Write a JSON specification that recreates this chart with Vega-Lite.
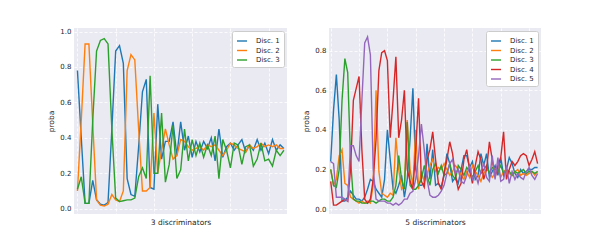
{
"$schema": "https://vega.github.io/schema/vega-lite/v6.json",
"padding": {"left": 47, "top": 27, "right": 5, "bottom": 5},
"background": "white",
"spacing": 42,
"bounds": "flush",
"config": {
  "view": {"fill": "#EAEAF2", "stroke": null},
  "font": "DejaVu Sans",
  "axis": {"domain": false, "ticks": false, "grid": true, "gridColor": "white", "gridDash": [3, 2], "gridWidth": 0.8, "labelFontSize": 7, "labelColor": "#262626", "titleFontSize": 7.5, "titleFontWeight": "normal", "titleColor": "#262626", "labelPadding": 3, "titlePadding": 4},
  "legend": {"orient": "top-right", "offset": 3, "fillColor": "white", "strokeColor": "#cccccc", "cornerRadius": 2, "padding": 4, "symbolType": "stroke", "symbolSize": 100, "symbolStrokeWidth": 1.5, "labelFontSize": 7, "labelColor": "#262626", "rowPadding": 0.5, "labelOffset": 8},
  "line": {"strokeWidth": 1.4}
},
"resolve": {"scale": {"x": "independent", "y": "independent", "color": "independent"}, "legend": {"color": "independent"}},
"datasets": {
"left": [
{"x":0,"disc":"Disc. 1","proba":0.78},{"x":1,"disc":"Disc. 1","proba":0.40},{"x":2,"disc":"Disc. 1","proba":0.03},{"x":3,"disc":"Disc. 1","proba":0.03},{"x":4,"disc":"Disc. 1","proba":0.16},{"x":5,"disc":"Disc. 1","proba":0.05},{"x":6,"disc":"Disc. 1","proba":0.025},{"x":7,"disc":"Disc. 1","proba":0.02},{"x":8,"disc":"Disc. 1","proba":0.035},{"x":9,"disc":"Disc. 1","proba":0.45},
{"x":10,"disc":"Disc. 1","proba":0.89},{"x":11,"disc":"Disc. 1","proba":0.92},{"x":12,"disc":"Disc. 1","proba":0.82},{"x":13,"disc":"Disc. 1","proba":0.17},{"x":14,"disc":"Disc. 1","proba":0.08},{"x":15,"disc":"Disc. 1","proba":0.07},{"x":16,"disc":"Disc. 1","proba":0.35},{"x":17,"disc":"Disc. 1","proba":0.66},{"x":18,"disc":"Disc. 1","proba":0.73},{"x":19,"disc":"Disc. 1","proba":0.12},
{"x":20,"disc":"Disc. 1","proba":0.11},{"x":21,"disc":"Disc. 1","proba":0.59},{"x":22,"disc":"Disc. 1","proba":0.28},{"x":23,"disc":"Disc. 1","proba":0.38},{"x":24,"disc":"Disc. 1","proba":0.38},{"x":25,"disc":"Disc. 1","proba":0.49},{"x":26,"disc":"Disc. 1","proba":0.30},{"x":27,"disc":"Disc. 1","proba":0.49},{"x":28,"disc":"Disc. 1","proba":0.33},{"x":29,"disc":"Disc. 1","proba":0.41},
{"x":30,"disc":"Disc. 1","proba":0.29},{"x":31,"disc":"Disc. 1","proba":0.38},{"x":32,"disc":"Disc. 1","proba":0.32},{"x":33,"disc":"Disc. 1","proba":0.38},{"x":34,"disc":"Disc. 1","proba":0.34},{"x":35,"disc":"Disc. 1","proba":0.40},{"x":36,"disc":"Disc. 1","proba":0.27},{"x":37,"disc":"Disc. 1","proba":0.45},{"x":38,"disc":"Disc. 1","proba":0.29},{"x":39,"disc":"Disc. 1","proba":0.35},
{"x":40,"disc":"Disc. 1","proba":0.37},{"x":41,"disc":"Disc. 1","proba":0.33},{"x":42,"disc":"Disc. 1","proba":0.36},{"x":43,"disc":"Disc. 1","proba":0.39},{"x":44,"disc":"Disc. 1","proba":0.32},{"x":45,"disc":"Disc. 1","proba":0.36},{"x":46,"disc":"Disc. 1","proba":0.33},{"x":47,"disc":"Disc. 1","proba":0.39},{"x":48,"disc":"Disc. 1","proba":0.33},{"x":49,"disc":"Disc. 1","proba":0.37},
{"x":50,"disc":"Disc. 1","proba":0.31},{"x":51,"disc":"Disc. 1","proba":0.39},{"x":52,"disc":"Disc. 1","proba":0.33},{"x":53,"disc":"Disc. 1","proba":0.36},{"x":54,"disc":"Disc. 1","proba":0.34},
{"x":0,"disc":"Disc. 2","proba":0.10},{"x":1,"disc":"Disc. 2","proba":0.50},{"x":2,"disc":"Disc. 2","proba":0.93},{"x":3,"disc":"Disc. 2","proba":0.93},{"x":4,"disc":"Disc. 2","proba":0.48},{"x":5,"disc":"Disc. 2","proba":0.05},{"x":6,"disc":"Disc. 2","proba":0.02},{"x":7,"disc":"Disc. 2","proba":0.015},{"x":8,"disc":"Disc. 2","proba":0.025},{"x":9,"disc":"Disc. 2","proba":0.08},
{"x":10,"disc":"Disc. 2","proba":0.05},{"x":11,"disc":"Disc. 2","proba":0.04},{"x":12,"disc":"Disc. 2","proba":0.10},{"x":13,"disc":"Disc. 2","proba":0.78},{"x":14,"disc":"Disc. 2","proba":0.87},{"x":15,"disc":"Disc. 2","proba":0.84},{"x":16,"disc":"Disc. 2","proba":0.45},{"x":17,"disc":"Disc. 2","proba":0.10},{"x":18,"disc":"Disc. 2","proba":0.10},{"x":19,"disc":"Disc. 2","proba":0.12},
{"x":20,"disc":"Disc. 2","proba":0.54},{"x":21,"disc":"Disc. 2","proba":0.20},{"x":22,"disc":"Disc. 2","proba":0.33},{"x":23,"disc":"Disc. 2","proba":0.45},{"x":24,"disc":"Disc. 2","proba":0.36},{"x":25,"disc":"Disc. 2","proba":0.28},{"x":26,"disc":"Disc. 2","proba":0.30},{"x":27,"disc":"Disc. 2","proba":0.39},{"x":28,"disc":"Disc. 2","proba":0.38},{"x":29,"disc":"Disc. 2","proba":0.35},
{"x":30,"disc":"Disc. 2","proba":0.33},{"x":31,"disc":"Disc. 2","proba":0.34},{"x":32,"disc":"Disc. 2","proba":0.35},{"x":33,"disc":"Disc. 2","proba":0.33},{"x":34,"disc":"Disc. 2","proba":0.36},{"x":35,"disc":"Disc. 2","proba":0.35},{"x":36,"disc":"Disc. 2","proba":0.36},{"x":37,"disc":"Disc. 2","proba":0.33},{"x":38,"disc":"Disc. 2","proba":0.30},{"x":39,"disc":"Disc. 2","proba":0.33},
{"x":40,"disc":"Disc. 2","proba":0.37},{"x":41,"disc":"Disc. 2","proba":0.36},{"x":42,"disc":"Disc. 2","proba":0.34},{"x":43,"disc":"Disc. 2","proba":0.33},{"x":44,"disc":"Disc. 2","proba":0.32},{"x":45,"disc":"Disc. 2","proba":0.36},{"x":46,"disc":"Disc. 2","proba":0.34},{"x":47,"disc":"Disc. 2","proba":0.35},{"x":48,"disc":"Disc. 2","proba":0.37},{"x":49,"disc":"Disc. 2","proba":0.35},
{"x":50,"disc":"Disc. 2","proba":0.36},{"x":51,"disc":"Disc. 2","proba":0.35},{"x":52,"disc":"Disc. 2","proba":0.36},{"x":53,"disc":"Disc. 2","proba":0.34},{"x":54,"disc":"Disc. 2","proba":0.34},
{"x":0,"disc":"Disc. 3","proba":0.11},{"x":1,"disc":"Disc. 3","proba":0.18},{"x":2,"disc":"Disc. 3","proba":0.03},{"x":3,"disc":"Disc. 3","proba":0.03},{"x":4,"disc":"Disc. 3","proba":0.50},{"x":5,"disc":"Disc. 3","proba":0.89},{"x":6,"disc":"Disc. 3","proba":0.95},{"x":7,"disc":"Disc. 3","proba":0.96},{"x":8,"disc":"Disc. 3","proba":0.93},{"x":9,"disc":"Disc. 3","proba":0.45},
{"x":10,"disc":"Disc. 3","proba":0.06},{"x":11,"disc":"Disc. 3","proba":0.04},{"x":12,"disc":"Disc. 3","proba":0.045},{"x":13,"disc":"Disc. 3","proba":0.05},{"x":14,"disc":"Disc. 3","proba":0.05},{"x":15,"disc":"Disc. 3","proba":0.06},{"x":16,"disc":"Disc. 3","proba":0.18},{"x":17,"disc":"Disc. 3","proba":0.23},{"x":18,"disc":"Disc. 3","proba":0.17},{"x":19,"disc":"Disc. 3","proba":0.75},
{"x":20,"disc":"Disc. 3","proba":0.20},{"x":21,"disc":"Disc. 3","proba":0.20},{"x":22,"disc":"Disc. 3","proba":0.54},{"x":23,"disc":"Disc. 3","proba":0.15},{"x":24,"disc":"Disc. 3","proba":0.25},{"x":25,"disc":"Disc. 3","proba":0.47},{"x":26,"disc":"Disc. 3","proba":0.17},{"x":27,"disc":"Disc. 3","proba":0.22},{"x":28,"disc":"Disc. 3","proba":0.45},{"x":29,"disc":"Disc. 3","proba":0.27},
{"x":30,"disc":"Disc. 3","proba":0.39},{"x":31,"disc":"Disc. 3","proba":0.30},{"x":32,"disc":"Disc. 3","proba":0.37},{"x":33,"disc":"Disc. 3","proba":0.29},{"x":34,"disc":"Disc. 3","proba":0.36},{"x":35,"disc":"Disc. 3","proba":0.30},{"x":36,"disc":"Disc. 3","proba":0.41},{"x":37,"disc":"Disc. 3","proba":0.17},{"x":38,"disc":"Disc. 3","proba":0.39},{"x":39,"disc":"Disc. 3","proba":0.33},
{"x":40,"disc":"Disc. 3","proba":0.23},{"x":41,"disc":"Disc. 3","proba":0.37},{"x":42,"disc":"Disc. 3","proba":0.36},{"x":43,"disc":"Disc. 3","proba":0.25},{"x":44,"disc":"Disc. 3","proba":0.35},{"x":45,"disc":"Disc. 3","proba":0.36},{"x":46,"disc":"Disc. 3","proba":0.24},{"x":47,"disc":"Disc. 3","proba":0.28},{"x":48,"disc":"Disc. 3","proba":0.37},{"x":49,"disc":"Disc. 3","proba":0.27},
{"x":50,"disc":"Disc. 3","proba":0.28},{"x":51,"disc":"Disc. 3","proba":0.24},{"x":52,"disc":"Disc. 3","proba":0.33},{"x":53,"disc":"Disc. 3","proba":0.30},{"x":54,"disc":"Disc. 3","proba":0.33}
],
"right": [
{"x":0,"disc":"Disc. 1","proba":0.24},{"x":1,"disc":"Disc. 1","proba":0.50},{"x":2,"disc":"Disc. 1","proba":0.68},{"x":3,"disc":"Disc. 1","proba":0.45},{"x":4,"disc":"Disc. 1","proba":0.04},{"x":5,"disc":"Disc. 1","proba":0.04},{"x":6,"disc":"Disc. 1","proba":0.06},{"x":7,"disc":"Disc. 1","proba":0.09},{"x":8,"disc":"Disc. 1","proba":0.07},{"x":9,"disc":"Disc. 1","proba":0.05},
{"x":10,"disc":"Disc. 1","proba":0.05},{"x":11,"disc":"Disc. 1","proba":0.04},{"x":12,"disc":"Disc. 1","proba":0.06},{"x":13,"disc":"Disc. 1","proba":0.10},{"x":14,"disc":"Disc. 1","proba":0.15},{"x":15,"disc":"Disc. 1","proba":0.14},{"x":16,"disc":"Disc. 1","proba":0.10},{"x":17,"disc":"Disc. 1","proba":0.08},{"x":18,"disc":"Disc. 1","proba":0.06},{"x":19,"disc":"Disc. 1","proba":0.15},
{"x":20,"disc":"Disc. 1","proba":0.40},{"x":21,"disc":"Disc. 1","proba":0.25},{"x":22,"disc":"Disc. 1","proba":0.10},{"x":23,"disc":"Disc. 1","proba":0.08},{"x":24,"disc":"Disc. 1","proba":0.12},{"x":25,"disc":"Disc. 1","proba":0.17},{"x":26,"disc":"Disc. 1","proba":0.06},{"x":27,"disc":"Disc. 1","proba":0.15},{"x":28,"disc":"Disc. 1","proba":0.35},{"x":29,"disc":"Disc. 1","proba":0.61},
{"x":30,"disc":"Disc. 1","proba":0.20},{"x":31,"disc":"Disc. 1","proba":0.12},{"x":32,"disc":"Disc. 1","proba":0.12},{"x":33,"disc":"Disc. 1","proba":0.13},{"x":34,"disc":"Disc. 1","proba":0.33},{"x":35,"disc":"Disc. 1","proba":0.15},{"x":36,"disc":"Disc. 1","proba":0.30},{"x":37,"disc":"Disc. 1","proba":0.12},{"x":38,"disc":"Disc. 1","proba":0.13},{"x":39,"disc":"Disc. 1","proba":0.11},
{"x":40,"disc":"Disc. 1","proba":0.17},{"x":41,"disc":"Disc. 1","proba":0.28},{"x":42,"disc":"Disc. 1","proba":0.23},{"x":43,"disc":"Disc. 1","proba":0.14},{"x":44,"disc":"Disc. 1","proba":0.16},{"x":45,"disc":"Disc. 1","proba":0.13},{"x":46,"disc":"Disc. 1","proba":0.20},{"x":47,"disc":"Disc. 1","proba":0.27},{"x":48,"disc":"Disc. 1","proba":0.27},{"x":49,"disc":"Disc. 1","proba":0.21},
{"x":50,"disc":"Disc. 1","proba":0.24},{"x":51,"disc":"Disc. 1","proba":0.15},{"x":52,"disc":"Disc. 1","proba":0.17},{"x":53,"disc":"Disc. 1","proba":0.28},{"x":54,"disc":"Disc. 1","proba":0.22},{"x":55,"disc":"Disc. 1","proba":0.28},{"x":56,"disc":"Disc. 1","proba":0.16},{"x":57,"disc":"Disc. 1","proba":0.19},{"x":58,"disc":"Disc. 1","proba":0.22},{"x":59,"disc":"Disc. 1","proba":0.17},
{"x":60,"disc":"Disc. 1","proba":0.26},{"x":61,"disc":"Disc. 1","proba":0.17},{"x":62,"disc":"Disc. 1","proba":0.20},{"x":63,"disc":"Disc. 1","proba":0.26},{"x":64,"disc":"Disc. 1","proba":0.23},{"x":65,"disc":"Disc. 1","proba":0.18},{"x":66,"disc":"Disc. 1","proba":0.16},{"x":67,"disc":"Disc. 1","proba":0.20},{"x":68,"disc":"Disc. 1","proba":0.18},{"x":69,"disc":"Disc. 1","proba":0.19},
{"x":70,"disc":"Disc. 1","proba":0.20},{"x":71,"disc":"Disc. 1","proba":0.20},{"x":72,"disc":"Disc. 1","proba":0.21},{"x":73,"disc":"Disc. 1","proba":0.21},
{"x":0,"disc":"Disc. 2","proba":0.20},{"x":1,"disc":"Disc. 2","proba":0.12},{"x":2,"disc":"Disc. 2","proba":0.15},{"x":3,"disc":"Disc. 2","proba":0.27},{"x":4,"disc":"Disc. 2","proba":0.30},{"x":5,"disc":"Disc. 2","proba":0.13},{"x":6,"disc":"Disc. 2","proba":0.12},{"x":7,"disc":"Disc. 2","proba":0.06},{"x":8,"disc":"Disc. 2","proba":0.05},{"x":9,"disc":"Disc. 2","proba":0.04},
{"x":10,"disc":"Disc. 2","proba":0.03},{"x":11,"disc":"Disc. 2","proba":0.04},{"x":12,"disc":"Disc. 2","proba":0.03},{"x":13,"disc":"Disc. 2","proba":0.04},{"x":14,"disc":"Disc. 2","proba":0.03},{"x":15,"disc":"Disc. 2","proba":0.12},{"x":16,"disc":"Disc. 2","proba":0.60},{"x":17,"disc":"Disc. 2","proba":0.19},{"x":18,"disc":"Disc. 2","proba":0.08},{"x":19,"disc":"Disc. 2","proba":0.07},
{"x":20,"disc":"Disc. 2","proba":0.06},{"x":21,"disc":"Disc. 2","proba":0.08},{"x":22,"disc":"Disc. 2","proba":0.07},{"x":23,"disc":"Disc. 2","proba":0.36},{"x":24,"disc":"Disc. 2","proba":0.20},{"x":25,"disc":"Disc. 2","proba":0.10},{"x":26,"disc":"Disc. 2","proba":0.12},{"x":27,"disc":"Disc. 2","proba":0.45},{"x":28,"disc":"Disc. 2","proba":0.20},{"x":29,"disc":"Disc. 2","proba":0.12},
{"x":30,"disc":"Disc. 2","proba":0.40},{"x":31,"disc":"Disc. 2","proba":0.10},{"x":32,"disc":"Disc. 2","proba":0.19},{"x":33,"disc":"Disc. 2","proba":0.14},{"x":34,"disc":"Disc. 2","proba":0.18},{"x":35,"disc":"Disc. 2","proba":0.22},{"x":36,"disc":"Disc. 2","proba":0.25},{"x":37,"disc":"Disc. 2","proba":0.19},{"x":38,"disc":"Disc. 2","proba":0.21},{"x":39,"disc":"Disc. 2","proba":0.20},
{"x":40,"disc":"Disc. 2","proba":0.23},{"x":41,"disc":"Disc. 2","proba":0.20},{"x":42,"disc":"Disc. 2","proba":0.17},{"x":43,"disc":"Disc. 2","proba":0.19},{"x":44,"disc":"Disc. 2","proba":0.22},{"x":45,"disc":"Disc. 2","proba":0.20},{"x":46,"disc":"Disc. 2","proba":0.17},{"x":47,"disc":"Disc. 2","proba":0.15},{"x":48,"disc":"Disc. 2","proba":0.19},{"x":49,"disc":"Disc. 2","proba":0.16},
{"x":50,"disc":"Disc. 2","proba":0.22},{"x":51,"disc":"Disc. 2","proba":0.19},{"x":52,"disc":"Disc. 2","proba":0.17},{"x":53,"disc":"Disc. 2","proba":0.14},{"x":54,"disc":"Disc. 2","proba":0.18},{"x":55,"disc":"Disc. 2","proba":0.20},{"x":56,"disc":"Disc. 2","proba":0.19},{"x":57,"disc":"Disc. 2","proba":0.16},{"x":58,"disc":"Disc. 2","proba":0.18},{"x":59,"disc":"Disc. 2","proba":0.21},
{"x":60,"disc":"Disc. 2","proba":0.16},{"x":61,"disc":"Disc. 2","proba":0.19},{"x":62,"disc":"Disc. 2","proba":0.20},{"x":63,"disc":"Disc. 2","proba":0.18},{"x":64,"disc":"Disc. 2","proba":0.17},{"x":65,"disc":"Disc. 2","proba":0.19},{"x":66,"disc":"Disc. 2","proba":0.20},{"x":67,"disc":"Disc. 2","proba":0.17},{"x":68,"disc":"Disc. 2","proba":0.18},{"x":69,"disc":"Disc. 2","proba":0.17},
{"x":70,"disc":"Disc. 2","proba":0.18},{"x":71,"disc":"Disc. 2","proba":0.19},{"x":72,"disc":"Disc. 2","proba":0.17},{"x":73,"disc":"Disc. 2","proba":0.19},
{"x":0,"disc":"Disc. 3","proba":0.20},{"x":1,"disc":"Disc. 3","proba":0.12},{"x":2,"disc":"Disc. 3","proba":0.11},{"x":3,"disc":"Disc. 3","proba":0.20},{"x":4,"disc":"Disc. 3","proba":0.55},{"x":5,"disc":"Disc. 3","proba":0.76},{"x":6,"disc":"Disc. 3","proba":0.69},{"x":7,"disc":"Disc. 3","proba":0.25},{"x":8,"disc":"Disc. 3","proba":0.05},{"x":9,"disc":"Disc. 3","proba":0.04},
{"x":10,"disc":"Disc. 3","proba":0.04},{"x":11,"disc":"Disc. 3","proba":0.03},{"x":12,"disc":"Disc. 3","proba":0.03},{"x":13,"disc":"Disc. 3","proba":0.03},{"x":14,"disc":"Disc. 3","proba":0.04},{"x":15,"disc":"Disc. 3","proba":0.04},{"x":16,"disc":"Disc. 3","proba":0.03},{"x":17,"disc":"Disc. 3","proba":0.04},{"x":18,"disc":"Disc. 3","proba":0.05},{"x":19,"disc":"Disc. 3","proba":0.05},
{"x":20,"disc":"Disc. 3","proba":0.04},{"x":21,"disc":"Disc. 3","proba":0.04},{"x":22,"disc":"Disc. 3","proba":0.06},{"x":23,"disc":"Disc. 3","proba":0.12},{"x":24,"disc":"Disc. 3","proba":0.27},{"x":25,"disc":"Disc. 3","proba":0.15},{"x":26,"disc":"Disc. 3","proba":0.10},{"x":27,"disc":"Disc. 3","proba":0.44},{"x":28,"disc":"Disc. 3","proba":0.12},{"x":29,"disc":"Disc. 3","proba":0.10},
{"x":30,"disc":"Disc. 3","proba":0.10},{"x":31,"disc":"Disc. 3","proba":0.12},{"x":32,"disc":"Disc. 3","proba":0.15},{"x":33,"disc":"Disc. 3","proba":0.22},{"x":34,"disc":"Disc. 3","proba":0.17},{"x":35,"disc":"Disc. 3","proba":0.12},{"x":36,"disc":"Disc. 3","proba":0.20},{"x":37,"disc":"Disc. 3","proba":0.23},{"x":38,"disc":"Disc. 3","proba":0.18},{"x":39,"disc":"Disc. 3","proba":0.22},
{"x":40,"disc":"Disc. 3","proba":0.17},{"x":41,"disc":"Disc. 3","proba":0.18},{"x":42,"disc":"Disc. 3","proba":0.23},{"x":43,"disc":"Disc. 3","proba":0.17},{"x":44,"disc":"Disc. 3","proba":0.15},{"x":45,"disc":"Disc. 3","proba":0.22},{"x":46,"disc":"Disc. 3","proba":0.20},{"x":47,"disc":"Disc. 3","proba":0.17},{"x":48,"disc":"Disc. 3","proba":0.21},{"x":49,"disc":"Disc. 3","proba":0.19},
{"x":50,"disc":"Disc. 3","proba":0.16},{"x":51,"disc":"Disc. 3","proba":0.19},{"x":52,"disc":"Disc. 3","proba":0.22},{"x":53,"disc":"Disc. 3","proba":0.18},{"x":54,"disc":"Disc. 3","proba":0.20},{"x":55,"disc":"Disc. 3","proba":0.22},{"x":56,"disc":"Disc. 3","proba":0.18},{"x":57,"disc":"Disc. 3","proba":0.21},{"x":58,"disc":"Disc. 3","proba":0.20},{"x":59,"disc":"Disc. 3","proba":0.19},
{"x":60,"disc":"Disc. 3","proba":0.22},{"x":61,"disc":"Disc. 3","proba":0.18},{"x":62,"disc":"Disc. 3","proba":0.20},{"x":63,"disc":"Disc. 3","proba":0.19},{"x":64,"disc":"Disc. 3","proba":0.17},{"x":65,"disc":"Disc. 3","proba":0.19},{"x":66,"disc":"Disc. 3","proba":0.18},{"x":67,"disc":"Disc. 3","proba":0.19},{"x":68,"disc":"Disc. 3","proba":0.20},{"x":69,"disc":"Disc. 3","proba":0.18},
{"x":70,"disc":"Disc. 3","proba":0.19},{"x":71,"disc":"Disc. 3","proba":0.19},{"x":72,"disc":"Disc. 3","proba":0.18},{"x":73,"disc":"Disc. 3","proba":0.19},
{"x":0,"disc":"Disc. 4","proba":0.14},{"x":1,"disc":"Disc. 4","proba":0.02},{"x":2,"disc":"Disc. 4","proba":0.02},{"x":3,"disc":"Disc. 4","proba":0.03},{"x":4,"disc":"Disc. 4","proba":0.04},{"x":5,"disc":"Disc. 4","proba":0.05},{"x":6,"disc":"Disc. 4","proba":0.04},{"x":7,"disc":"Disc. 4","proba":0.20},{"x":8,"disc":"Disc. 4","proba":0.55},{"x":9,"disc":"Disc. 4","proba":0.61},
{"x":10,"disc":"Disc. 4","proba":0.67},{"x":11,"disc":"Disc. 4","proba":0.30},{"x":12,"disc":"Disc. 4","proba":0.05},{"x":13,"disc":"Disc. 4","proba":0.03},{"x":14,"disc":"Disc. 4","proba":0.05},{"x":15,"disc":"Disc. 4","proba":0.15},{"x":16,"disc":"Disc. 4","proba":0.35},{"x":17,"disc":"Disc. 4","proba":0.70},{"x":18,"disc":"Disc. 4","proba":0.79},{"x":19,"disc":"Disc. 4","proba":0.80},
{"x":20,"disc":"Disc. 4","proba":0.75},{"x":21,"disc":"Disc. 4","proba":0.36},{"x":22,"disc":"Disc. 4","proba":0.55},{"x":23,"disc":"Disc. 4","proba":0.77},{"x":24,"disc":"Disc. 4","proba":0.36},{"x":25,"disc":"Disc. 4","proba":0.45},{"x":26,"disc":"Disc. 4","proba":0.60},{"x":27,"disc":"Disc. 4","proba":0.20},{"x":28,"disc":"Disc. 4","proba":0.14},{"x":29,"disc":"Disc. 4","proba":0.10},
{"x":30,"disc":"Disc. 4","proba":0.30},{"x":31,"disc":"Disc. 4","proba":0.56},{"x":32,"disc":"Disc. 4","proba":0.14},{"x":33,"disc":"Disc. 4","proba":0.11},{"x":34,"disc":"Disc. 4","proba":0.25},{"x":35,"disc":"Disc. 4","proba":0.30},{"x":36,"disc":"Disc. 4","proba":0.39},{"x":37,"disc":"Disc. 4","proba":0.25},{"x":38,"disc":"Disc. 4","proba":0.13},{"x":39,"disc":"Disc. 4","proba":0.10},
{"x":40,"disc":"Disc. 4","proba":0.18},{"x":41,"disc":"Disc. 4","proba":0.25},{"x":42,"disc":"Disc. 4","proba":0.34},{"x":43,"disc":"Disc. 4","proba":0.28},{"x":44,"disc":"Disc. 4","proba":0.17},{"x":45,"disc":"Disc. 4","proba":0.10},{"x":46,"disc":"Disc. 4","proba":0.13},{"x":47,"disc":"Disc. 4","proba":0.25},{"x":48,"disc":"Disc. 4","proba":0.30},{"x":49,"disc":"Disc. 4","proba":0.20},
{"x":50,"disc":"Disc. 4","proba":0.13},{"x":51,"disc":"Disc. 4","proba":0.22},{"x":52,"disc":"Disc. 4","proba":0.29},{"x":53,"disc":"Disc. 4","proba":0.25},{"x":54,"disc":"Disc. 4","proba":0.15},{"x":55,"disc":"Disc. 4","proba":0.20},{"x":56,"disc":"Disc. 4","proba":0.34},{"x":57,"disc":"Disc. 4","proba":0.25},{"x":58,"disc":"Disc. 4","proba":0.16},{"x":59,"disc":"Disc. 4","proba":0.22},
{"x":60,"disc":"Disc. 4","proba":0.26},{"x":61,"disc":"Disc. 4","proba":0.39},{"x":62,"disc":"Disc. 4","proba":0.15},{"x":63,"disc":"Disc. 4","proba":0.20},{"x":64,"disc":"Disc. 4","proba":0.24},{"x":65,"disc":"Disc. 4","proba":0.22},{"x":66,"disc":"Disc. 4","proba":0.24},{"x":67,"disc":"Disc. 4","proba":0.27},{"x":68,"disc":"Disc. 4","proba":0.28},{"x":69,"disc":"Disc. 4","proba":0.27},
{"x":70,"disc":"Disc. 4","proba":0.22},{"x":71,"disc":"Disc. 4","proba":0.25},{"x":72,"disc":"Disc. 4","proba":0.29},{"x":73,"disc":"Disc. 4","proba":0.23},
{"x":0,"disc":"Disc. 5","proba":0.24},{"x":1,"disc":"Disc. 5","proba":0.23},{"x":2,"disc":"Disc. 5","proba":0.06},{"x":3,"disc":"Disc. 5","proba":0.06},{"x":4,"disc":"Disc. 5","proba":0.06},{"x":5,"disc":"Disc. 5","proba":0.05},{"x":6,"disc":"Disc. 5","proba":0.04},{"x":7,"disc":"Disc. 5","proba":0.32},{"x":8,"disc":"Disc. 5","proba":0.32},{"x":9,"disc":"Disc. 5","proba":0.27},
{"x":10,"disc":"Disc. 5","proba":0.24},{"x":11,"disc":"Disc. 5","proba":0.55},{"x":12,"disc":"Disc. 5","proba":0.84},{"x":13,"disc":"Disc. 5","proba":0.87},{"x":14,"disc":"Disc. 5","proba":0.78},{"x":15,"disc":"Disc. 5","proba":0.20},{"x":16,"disc":"Disc. 5","proba":0.05},{"x":17,"disc":"Disc. 5","proba":0.04},{"x":18,"disc":"Disc. 5","proba":0.04},{"x":19,"disc":"Disc. 5","proba":0.04},
{"x":20,"disc":"Disc. 5","proba":0.03},{"x":21,"disc":"Disc. 5","proba":0.03},{"x":22,"disc":"Disc. 5","proba":0.02},{"x":23,"disc":"Disc. 5","proba":0.03},{"x":24,"disc":"Disc. 5","proba":0.02},{"x":25,"disc":"Disc. 5","proba":0.03},{"x":26,"disc":"Disc. 5","proba":0.05},{"x":27,"disc":"Disc. 5","proba":0.05},{"x":28,"disc":"Disc. 5","proba":0.08},{"x":29,"disc":"Disc. 5","proba":0.09},
{"x":30,"disc":"Disc. 5","proba":0.15},{"x":31,"disc":"Disc. 5","proba":0.27},{"x":32,"disc":"Disc. 5","proba":0.43},{"x":33,"disc":"Disc. 5","proba":0.30},{"x":34,"disc":"Disc. 5","proba":0.15},{"x":35,"disc":"Disc. 5","proba":0.07},{"x":36,"disc":"Disc. 5","proba":0.06},{"x":37,"disc":"Disc. 5","proba":0.06},{"x":38,"disc":"Disc. 5","proba":0.07},{"x":39,"disc":"Disc. 5","proba":0.09},
{"x":40,"disc":"Disc. 5","proba":0.12},{"x":41,"disc":"Disc. 5","proba":0.18},{"x":42,"disc":"Disc. 5","proba":0.23},{"x":43,"disc":"Disc. 5","proba":0.25},{"x":44,"disc":"Disc. 5","proba":0.18},{"x":45,"disc":"Disc. 5","proba":0.20},{"x":46,"disc":"Disc. 5","proba":0.14},{"x":47,"disc":"Disc. 5","proba":0.13},{"x":48,"disc":"Disc. 5","proba":0.17},{"x":49,"disc":"Disc. 5","proba":0.22},
{"x":50,"disc":"Disc. 5","proba":0.15},{"x":51,"disc":"Disc. 5","proba":0.18},{"x":52,"disc":"Disc. 5","proba":0.13},{"x":53,"disc":"Disc. 5","proba":0.19},{"x":54,"disc":"Disc. 5","proba":0.23},{"x":55,"disc":"Disc. 5","proba":0.16},{"x":56,"disc":"Disc. 5","proba":0.14},{"x":57,"disc":"Disc. 5","proba":0.27},{"x":58,"disc":"Disc. 5","proba":0.15},{"x":59,"disc":"Disc. 5","proba":0.26},
{"x":60,"disc":"Disc. 5","proba":0.14},{"x":61,"disc":"Disc. 5","proba":0.15},{"x":62,"disc":"Disc. 5","proba":0.22},{"x":63,"disc":"Disc. 5","proba":0.13},{"x":64,"disc":"Disc. 5","proba":0.19},{"x":65,"disc":"Disc. 5","proba":0.15},{"x":66,"disc":"Disc. 5","proba":0.18},{"x":67,"disc":"Disc. 5","proba":0.16},{"x":68,"disc":"Disc. 5","proba":0.15},{"x":69,"disc":"Disc. 5","proba":0.19},
{"x":70,"disc":"Disc. 5","proba":0.21},{"x":71,"disc":"Disc. 5","proba":0.17},{"x":72,"disc":"Disc. 5","proba":0.15},{"x":73,"disc":"Disc. 5","proba":0.18}
]
},
"hconcat": [
  {
    "data": {"name": "left"},
    "width": 213, "height": 186,
    "mark": {"type": "line"},
    "encoding": {
      "x": {"field": "x", "type": "quantitative", "scale": {"domain": [-0.9, 54.8], "nice": false, "zero": false}, "axis": {"title": "3 discriminators", "labels": false, "values": [0, 10, 20, 30, 40, 50]}},
      "y": {"field": "proba", "type": "quantitative", "scale": {"domain": [-0.03, 1.02], "nice": false, "zero": false}, "axis": {"title": "proba", "values": [0, 0.2, 0.4, 0.6, 0.8, 1.0], "format": ".1f"}},
      "color": {"field": "disc", "type": "nominal", "scale": {"domain": ["Disc. 1", "Disc. 2", "Disc. 3"], "range": ["#1f77b4", "#ff7f0e", "#2ca02c"]}, "legend": {"title": null}}
    }
  },
  {
    "data": {"name": "right"},
    "width": 212, "height": 186,
    "mark": {"type": "line"},
    "encoding": {
      "x": {"field": "x", "type": "quantitative", "scale": {"domain": [-0.6, 74.2], "nice": false, "zero": false}, "axis": {"title": "5 discriminators", "labels": false, "values": [0, 10, 20, 30, 40, 50, 60, 70]}},
      "y": {"field": "proba", "type": "quantitative", "scale": {"domain": [-0.025, 0.915], "nice": false, "zero": false}, "axis": {"title": "proba", "values": [0, 0.2, 0.4, 0.6, 0.8], "format": ".1f"}},
      "color": {"field": "disc", "type": "nominal", "scale": {"domain": ["Disc. 1", "Disc. 2", "Disc. 3", "Disc. 4", "Disc. 5"], "range": ["#1f77b4", "#ff7f0e", "#2ca02c", "#d62728", "#9467bd"]}, "legend": {"title": null}}
    }
  }
]
}
